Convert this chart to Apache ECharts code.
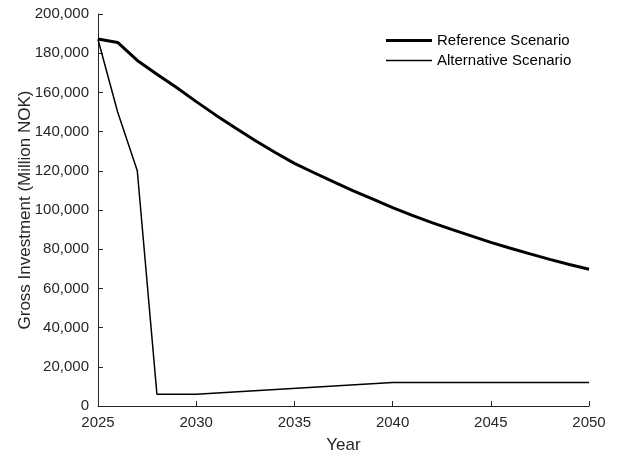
<!DOCTYPE html>
<html>
<head>
<meta charset="utf-8">
<script src="https://cdn.jsdelivr.net/npm/echarts@6/dist/echarts.min.js"></script>
<style>
  html, body { margin: 0; padding: 0; background: #fff; }
  #main { width: 620px; height: 455px; }
</style>
</head>
<body>
<div id="main"></div>
<script>
// years and values
var refYears = [2025, 2026, 2027, 2028, 2029, 2030, 2031, 2032, 2033, 2034, 2035, 2036, 2037,
                2038, 2039, 2040, 2041, 2042, 2043, 2044, 2045, 2046, 2047, 2048, 2049, 2050]
var refValues = [187200, 185500, 176300, 169300, 162500, 155300, 148400, 141800, 135500, 129500,
                 123800, 119000, 114300, 109800, 105500, 101200, 97300, 93600, 90100, 86800,
                 83500, 80500, 77600, 74800, 72200, 69800]
var altYears = [2025, 2026, 2027, 2028, 2030, 2040, 2050]
var altValues = [187000, 150000, 120000, 6000, 6000, 12000, 12000]
var xTicks = [2025, 2030, 2035, 2040, 2045, 2050]

var axisColor = '#262626'
var font = 'Liberation Sans, Arial, sans-serif'

function pairs(xs, ys){
    var out = []
    for (var i = 0; i < xs.length; i++) out.push([xs[i], ys[i]])
    return out
}

var option = {
    animation: false,
    textStyle: { fontFamily: font },
    grid: { left: 98, right: 31, top: 14, bottom: 49, containLabel: false, outerBoundsMode: 'none' },
    legend: {
        orient: 'vertical',
        left: 386,
        top: 33,
        padding: 0,
        itemWidth: 46,
        itemHeight: 14,
        itemGap: 5,
        symbolKeepAspect: true,
        textStyle: { fontSize: 15, color: '#000', fontFamily: font },
        data: [
            { name: 'Reference Scenario', icon: 'path://M0,0L46,0L46,3L0,3Z', itemStyle: { color: '#000' } },
            { name: 'Alternative Scenario', icon: 'path://M0,0L46,0L46,1.4L0,1.4Z', itemStyle: { color: '#000' } }
        ]
    },
    xAxis: {
        type: 'value',
        min: 2025,
        max: 2050,
        interval: 5,
        name: 'Year',
        nameLocation: 'middle',
        nameGap: 31,
        nameMoveOverlap: false,
        nameTextStyle: { fontSize: 17, color: axisColor, verticalAlign: 'top' },
        axisLine: { lineStyle: { color: axisColor, width: 1 } },
        axisTick: { inside: true, length: 5, lineStyle: { color: axisColor } },
        axisLabel: {
            fontSize: 15, color: axisColor, margin: 9,
            formatter: function(v){ return xTicks.indexOf(v) >= 0 ? String(v) : '' }
        },
        splitLine: { show: false }
    },
    yAxis: {
        type: 'value',
        min: 0,
        max: 200000,
        interval: 20000,
        name: 'Gross Investment (Million NOK)',
        nameLocation: 'middle',
        nameGap: 64,
        nameMoveOverlap: false,
        nameTextStyle: { fontSize: 17, color: axisColor },
        axisLine: { show: true, lineStyle: { color: axisColor, width: 1 } },
        axisTick: { show: true, inside: true, length: 5, lineStyle: { color: axisColor } },
        axisLabel: {
            fontSize: 15, color: axisColor, margin: 9,
            formatter: function(v){ return v.toLocaleString('en-US') }
        },
        splitLine: { show: false }
    },
    series: [
        {
            name: 'Reference Scenario',
            type: 'line',
            data: pairs(refYears, refValues),
            symbol: 'none',
            lineStyle: { color: '#000', width: 3 },
            itemStyle: { color: '#000' }
        },
        {
            name: 'Alternative Scenario',
            type: 'line',
            data: pairs(altYears, altValues),
            symbol: 'none',
            lineStyle: { color: '#000', width: 1.5 },
            itemStyle: { color: '#000' }
        }
    ]
}

var myChart = echarts.init(document.getElementById('main'))
myChart.setOption(option)
</script>
</body>
</html>
